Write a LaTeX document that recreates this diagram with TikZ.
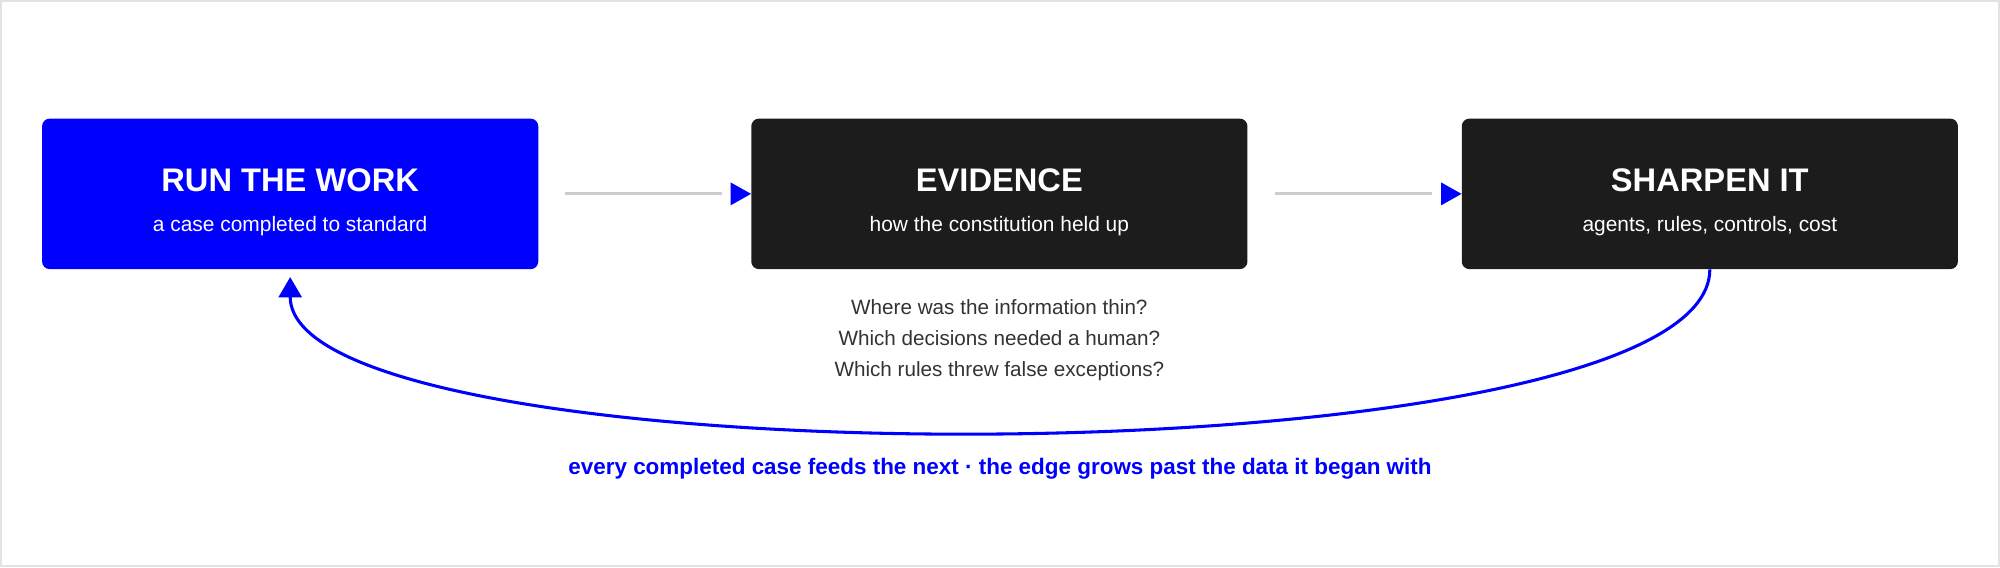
\documentclass[tikz,border=0pt]{standalone}
\usepackage{fontspec}
\setmainfont{Liberation Sans}
\usetikzlibrary{arrows.meta}
\definecolor{loopblue}{HTML}{0000FF}
\definecolor{boxdark}{HTML}{1C1C1C}
\definecolor{linegray}{HTML}{CCCCCC}
\definecolor{qgray}{HTML}{333333}
\definecolor{framegray}{HTML}{E3E3E3}
\begin{document}
\begin{tikzpicture}[x=1pt,y=-1pt,
  stage/.style={rectangle, rounded corners=6pt, minimum width=389pt, minimum height=118pt, inner sep=0pt},
  headtext/.style={font=\fontsize{25.6}{30}\selectfont\bfseries, text=white, anchor=base, inner sep=0pt},
  subtext/.style={font=\fontsize{16.4}{20}\selectfont, text=white, anchor=base, inner sep=0pt},
  qtext/.style={font=\fontsize{16.2}{20}\selectfont, text=qgray, anchor=base, inner sep=0pt},
  notetext/.style={font=\fontsize{17.6}{22}\selectfont\bfseries, text=loopblue, anchor=base, inner sep=0pt},
  flowline/.style={draw=linegray, line width=2.4pt},
  headfill/.style={fill=loopblue},
  loopline/.style={draw=loopblue, line width=2.4pt, -{Triangle[length=16pt,width=18pt]}}]
\useasboundingbox (0,0) rectangle (1568,444.6);
\draw[framegray, line width=1.5pt] (0.75,0.75) rectangle (1567.25,443.85);
% stages
\node[stage, fill=loopblue] (b1) at (227.5,152) {};
\node[stage, fill=boxdark] (b2) at (783.5,152) {};
\node[stage, fill=boxdark] (b3) at (1340.5,152) {};
\node[headtext] (t1) at (227.5,150.5) {RUN THE WORK};
\node[subtext] (s1) at (227.5,181.5) {a case completed to standard};
\node[headtext] (t2) at (783.5,150.5) {EVIDENCE};
\node[subtext] (s2) at (783.5,181.5) {how the constitution held up};
\node[headtext] (t3) at (1340.5,150.5) {SHARPEN IT};
\node[subtext] (s3) at (1340.5,181.5) {agents, rules, controls, cost};
% questions
\node[qtext] (q1) at (783.5,246.6) {Where was the information thin?};
\node[qtext] (q2) at (783.5,271) {Which decisions needed a human?};
\node[qtext] (q3) at (783.5,295.5) {Which rules threw false exceptions?};
% flow connectors
\draw[flowline] ([xshift=21pt]b1.east) -- ([xshift=-23pt]b2.west);
\fill[headfill] (b2.west) -- ++(-16,-9) -- ++(0,18) -- cycle;
\draw[flowline] ([xshift=21pt]b2.east) -- ([xshift=-23pt]b3.west);
\fill[headfill] (b3.west) -- ++(-16,-9) -- ++(0,18) -- cycle;
% feedback loop
\draw[loopline] (b3.south) .. controls +(0,168.5) and +(0,162.5) .. ([yshift=-6pt]b1.south);
\node[notetext] (note) at (784,372) {every completed case feeds the next · the edge grows past the data it began with};
\end{tikzpicture}
\end{document}
